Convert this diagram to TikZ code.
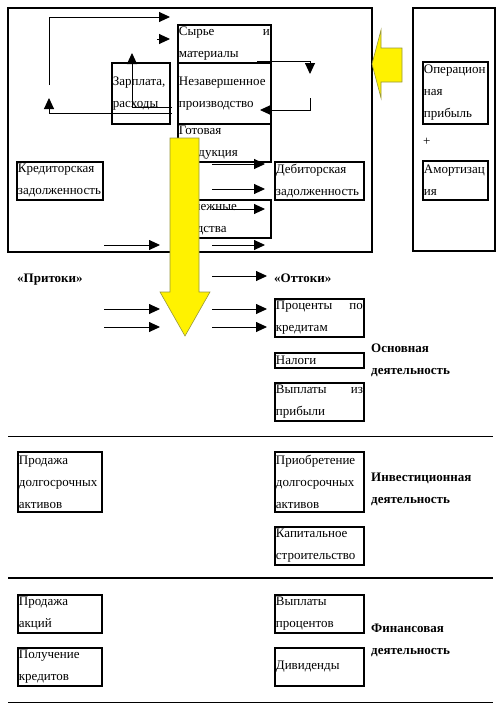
\documentclass[tikz,border=0pt]{standalone}
\usepackage{fontspec}
\setmainfont{Liberation Serif}
\usetikzlibrary{arrows.meta}
\newcommand{\boxfont}{\fontsize{13}{22}\selectfont}
\hyphenpenalty=10000

\tikzset{
  box/.style={draw, line width=1.8pt, anchor=north west, inner xsep=1pt, inner ysep=0pt, align=left, font=\boxfont},
  flow/.style={-{Triangle[length=11pt,width=10pt]}, line width=0.9pt},
  lbl/.style={inner sep=0pt, font=\boxfont\bfseries},
  bigarrow/.style={fill=yellow, draw={rgb,255:red,150;green,150;blue,60}, line width=0.6pt}
}

\begin{document}
\begin{tikzpicture}[x=1pt, y=-1pt]
\useasboundingbox (0,0) rectangle (499,707);

\draw[line width=2pt] (8,8) rectangle (372,252);
\draw[line width=2pt] (413,8) rectangle (495,251);

\node[box, text width=91pt, minimum height=38pt] (raw) at (177,24) {Сырье\hfill и\\материалы};
\node[box, text width=91pt, minimum height=61pt] (wip) at (177,62) {Незавершенное\\производство};
\node[box, text width=91pt, minimum height=38pt] (goods) at (177,123) {Готовая\\продукция};
\node[box, text width=91pt, minimum height=38pt] (cash) at (177,199) {Денежные\\средства};
\node[box, text width=56pt, minimum height=61pt] (wage) at (111,62) {Зарплата,\\расходы};
\node[box, text width=84pt, minimum height=38pt] (payable) at (16,161) {Кредиторская\\задолженность};
\node[box, text width=87pt, minimum height=38pt] (receivable) at (274,161) {Дебиторская\\задолженность};
\node[box, text width=63pt, minimum height=62pt] (profit) at (422,61) {Операцион\\ная\\прибыль};
\node[anchor=west, inner sep=0pt, font=\boxfont] (plus) at (423,142) {+};
\node[box, text width=63pt, minimum height=39pt] (amort) at (422,160) {Амортизац\\ия};

\coordinate (c1) at (49,85);
\coordinate (c2) at (49,17);
\coordinate (c3) at (170,17);
\coordinate (c4) at (157,39);
\coordinate (c5) at (170,39);
\coordinate (c6) at (172,107);
\coordinate (c7) at (132,107);
\coordinate (c8) at (132,53);
\coordinate (c9) at (172,113);
\coordinate (c10) at (49,113);
\coordinate (c11) at (49,98);
\coordinate (c12) at (257,61);
\coordinate (c13) at (310,61);
\coordinate (c14) at (310,74);
\coordinate (c15) at (310,98);
\coordinate (c16) at (310,110);
\coordinate (c17) at (260,110);

\draw[flow] (c1) -- (c2) -- (c3);
\draw[flow] (c4) -- (c5);
\draw[flow] (c6) -- (c7) -- (c8);
\draw[flow] (c9) -- (c10) -- (c11);
\draw[flow] (c12) -- (c13) -- (c14);
\draw[flow] (c15) -- (c16) -- (c17);

\draw[bigarrow] (170,138) -- (199,138) -- (199,292) -- (210,292) -- (185,336) -- (160,292) -- (170,292) -- cycle;
\draw[bigarrow] (402,48) -- (381,48) -- (381,30) -- (372,64) -- (381,98) -- (381,82) -- (402,82) -- cycle;

\coordinate (o1) at (212,164);
\coordinate (p1) at (265,164);
\coordinate (o2) at (212,189);
\coordinate (p2) at (265,189);
\coordinate (o3) at (212,209);
\coordinate (p3) at (265,209);
\coordinate (o4) at (212,245);
\coordinate (p4) at (265,245);
\coordinate (o5) at (212,276);
\coordinate (p5) at (267,276);
\coordinate (o6) at (212,309);
\coordinate (p6) at (267,309);
\coordinate (o7) at (212,327);
\coordinate (p7) at (267,327);
\coordinate (i1) at (104,245);
\coordinate (j1) at (160,245);
\coordinate (i2) at (104,309);
\coordinate (j2) at (160,309);
\coordinate (i3) at (104,327);
\coordinate (j3) at (160,327);

\draw[flow] (o1) -- (p1);
\draw[flow] (o2) -- (p2);
\draw[flow] (o3) -- (p3);
\draw[flow] (o4) -- (p4);
\draw[flow] (o5) -- (p5);
\draw[flow] (o6) -- (p6);
\draw[flow] (o7) -- (p7);
\draw[flow] (i1) -- (j1);
\draw[flow] (i2) -- (j2);
\draw[flow] (i3) -- (j3);

\node[lbl, anchor=base west] (inflow) at (17,282) {«Притоки»};
\node[lbl, anchor=base west] (outflow) at (274,282) {«Оттоки»};

\node[box, text width=87pt, minimum height=38pt] (interest) at (274,298) {Проценты\hfill по\\кредитам};
\node[box, text width=87pt, minimum height=15pt] (taxes) at (274,352) {Налоги};
\node[box, text width=87pt, minimum height=38pt] (payout) at (274,382) {Выплаты\hfill из\\прибыли};
\node[lbl, align=left, anchor=west] (operating) at (371,360) {Основная\\деятельность};

\draw[line width=0.8pt] (8,436) -- (493,436);

\node[box, text width=82pt, minimum height=60pt] (assetsale) at (17,451) {Продажа\\долгосрочных\\активов};
\node[box, text width=87pt, minimum height=60pt] (assetbuy) at (274,451) {Приобретение\\долгосрочных\\активов};
\node[box, text width=87pt, minimum height=38pt] (building) at (274,526) {Капитальное\\строительство};
\node[lbl, align=left, anchor=west] (investing) at (371,489) {Инвестиционная\\деятельность};

\draw[line width=2.2pt] (8,578) -- (493,578);

\node[box, text width=82pt, minimum height=38pt] (shares) at (17,594) {Продажа\\акций};
\node[box, text width=82pt, minimum height=38pt] (loans) at (17,647) {Получение\\кредитов};
\node[box, text width=87pt, minimum height=38pt] (intpaid) at (274,594) {Выплаты\\процентов};
\node[box, text width=87pt, minimum height=38pt] (dividends) at (274,647) {Дивиденды};
\node[lbl, align=left, anchor=west] (financing) at (371,640) {Финансовая\\деятельность};

\draw[line width=0.8pt] (8,702) -- (493,702);
\end{tikzpicture}
\end{document}
